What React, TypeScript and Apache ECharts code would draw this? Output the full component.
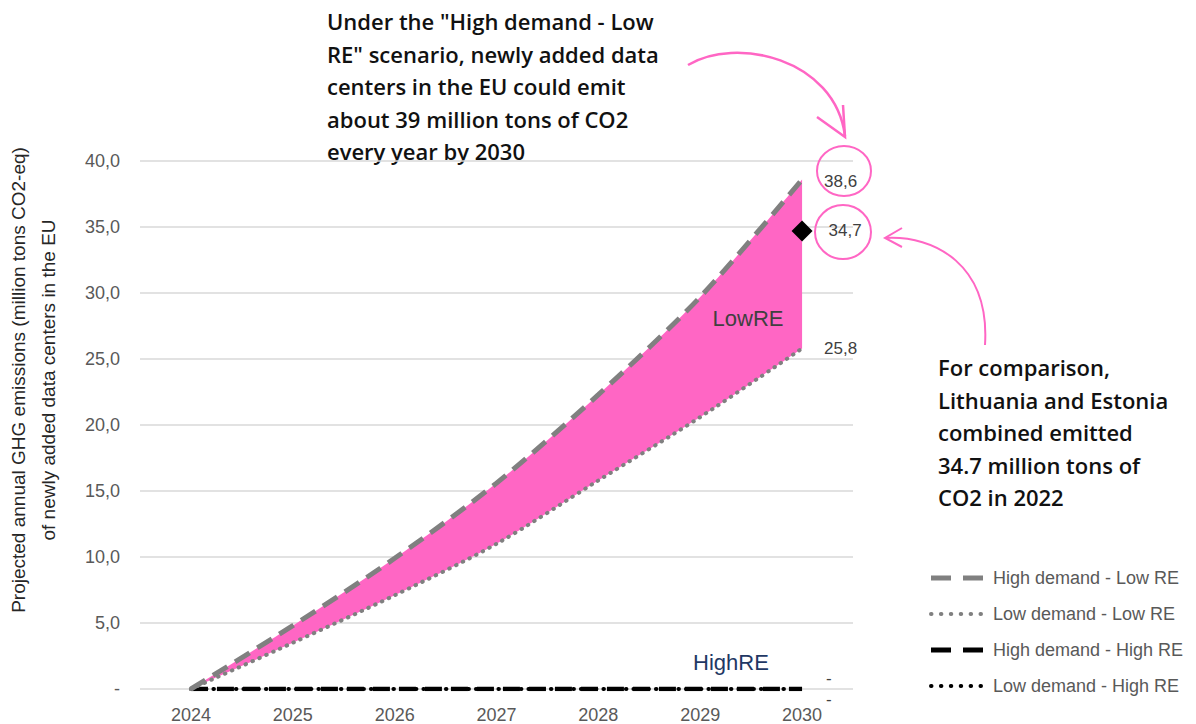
import React, { useEffect, useRef } from "react";
import * as echarts from "echarts";

const years = ["2024", "2025", "2026", "2027", "2028", "2029", "2030"];
const highDemandLowRE = [0, 4.8, 9.9, 15.6, 22.3, 29.7, 38.6];
const lowDemandLowRE = [0, 3.5, 7.1, 11.0, 15.8, 20.6, 25.8];
const highDemandHighRE = [0, 0, 0, 0, 0, 0, 0];
const lowDemandHighRE = [0, 0, 0, 0, 0, 0, 0];
const comparisonYear = "2030";
const comparisonValue = 34.7; // Lithuania + Estonia, 2022
const yMin = 0;
const yMax = 40;
const yInterval = 5;

const seriesNames = [
  "High demand - Low RE",
  "Low demand - Low RE",
  "High demand - High RE",
  "Low demand - High RE",
];

const topNote = [
  'Under the "High demand - Low',
  'RE" scenario, newly added data',
  "centers in the EU could emit",
  "about 39 million tons of CO2",
  "every year by 2030",
];
const sideNote = [
  "For comparison,",
  "Lithuania and Estonia",
  "combined emitted",
  "34.7 million tons of",
  "CO2 in 2022",
];
const yAxisTitle = [
  "Projected annual GHG emissions (million tons CO2-eq)",
  "of newly added data centers in the EU",
];

const FONT = "'Liberation Sans', Arial, sans-serif";
const NOTE_FONT = "'Open Sans', 'Noto Sans', sans-serif";
const PINK = "#ff66c4";
const GRAY = "#808080";

const DASH = [17, 9];
const DOT = [0.5, 7];
const LEGEND_DASH = [20, 12];
const LEGEND_DOT = [0.5, 9.4];

const fmt = (raw: any) => {
  const v = Number(Array.isArray(raw) ? raw[raw.length - 1] : raw);
  return v === 0 ? "-" : v.toFixed(1).replace(".", ",");
};

export default function App() {
  const ref = useRef<HTMLDivElement>(null);

  useEffect(() => {
    document.body.style.margin = "0";
    if (!ref.current) return;
    const chart = echarts.init(ref.current, undefined, { renderer: "svg" });

    const labelBase = {
      fontSize: 17,
      color: "#404040",
      fontFamily: FONT,
      formatter: (p: any) => fmt(p.value),
    };

    const bandDiff = highDemandLowRE.map((v, i) => +(v - lowDemandLowRE[i]).toFixed(2));

    const legendStyles = [
      { color: GRAY, width: 5, dash: LEGEND_DASH, cap: "butt" },
      { color: GRAY, width: 4, dash: LEGEND_DOT, cap: "round" },
      { color: "#000000", width: 5, dash: LEGEND_DASH, cap: "butt" },
      { color: "#000000", width: 4, dash: LEGEND_DOT, cap: "round" },
    ];
    const legendRowsY = [578, 614, 650, 686];
    const legendGraphics: any[] = [];
    seriesNames.forEach((name, i) => {
      const s = legendStyles[i];
      const y = legendRowsY[i];
      legendGraphics.push({
        type: "line",
        shape: { x1: 931, y1: y, x2: 983, y2: y },
        style: { stroke: s.color, lineWidth: s.width, lineDash: s.dash, lineCap: s.cap },
      });
      legendGraphics.push({
        type: "text",
        x: 993,
        y,
        style: {
          text: name,
          fontSize: 18,
          fill: "#595959",
          fontFamily: FONT,
          verticalAlign: "middle",
        },
      });
    });

    chart.setOption({
      animation: false,
      backgroundColor: "#ffffff",
      grid: { left: 140, right: 343, top: 161, bottom: 34, containLabel: false },
      xAxis: {
        type: "category",
        data: years,
        boundaryGap: true,
        axisLine: { show: false },
        axisTick: { show: false },
        axisLabel: { color: "#595959", fontSize: 18, fontFamily: FONT, margin: 17 },
      },
      yAxis: {
        type: "value",
        min: yMin,
        max: yMax,
        interval: yInterval,
        axisLine: { show: false },
        axisTick: { show: false },
        axisLabel: {
          color: "#595959",
          fontSize: 18,
          fontFamily: FONT,
          margin: 20,
          formatter: (v: number) => fmt(v),
        },
        splitLine: { lineStyle: { color: "#d9d9d9", width: 1.5 } },
      },
      legend: { show: false },
      series: [
        {
          name: "bandBase",
          type: "line",
          data: lowDemandLowRE,
          stack: "band",
          smooth: 0.3,
          symbol: "none",
          lineStyle: { width: 0, opacity: 0 },
          silent: true,
          z: 1,
        },
        {
          name: "LowRE band",
          type: "line",
          data: bandDiff,
          stack: "band",
          smooth: 0.3,
          symbol: "none",
          lineStyle: { width: 0, opacity: 0 },
          areaStyle: { color: PINK, opacity: 1 },
          silent: true,
          z: 1,
        },
        {
          name: seriesNames[2],
          type: "line",
          data: highDemandHighRE,
          symbol: "none",
          lineStyle: { color: "#000000", width: 4.5, type: DASH, cap: "butt" },
          endLabel: { show: true, ...labelBase, distance: 24, offset: [0, -11] },
          z: 3,
        },
        {
          name: seriesNames[3],
          type: "line",
          data: lowDemandHighRE,
          symbol: "none",
          lineStyle: { color: "#000000", width: 4, type: DOT, cap: "round" },
          endLabel: { show: true, ...labelBase, distance: 24, offset: [0, 10] },
          z: 3,
        },
        {
          name: seriesNames[0],
          type: "line",
          data: highDemandLowRE,
          smooth: 0.3,
          symbol: "none",
          lineStyle: { color: GRAY, width: 5, type: DASH, cap: "butt" },
          endLabel: { show: true, ...labelBase, distance: 22, offset: [0, 2] },
          z: 4,
        },
        {
          name: seriesNames[1],
          type: "line",
          data: lowDemandLowRE,
          smooth: 0.3,
          symbol: "none",
          lineStyle: { color: GRAY, width: 4, type: DOT, cap: "round" },
          endLabel: { show: true, ...labelBase, distance: 22 },
          z: 4,
        },
        {
          name: "Lithuania + Estonia 2022",
          type: "scatter",
          data: [[comparisonYear, comparisonValue]],
          symbol: "diamond",
          symbolSize: 21,
          itemStyle: { color: "#000000", opacity: 1 },
          label: { show: true, position: "right", ...labelBase, distance: 16 },
          z: 5,
        },
      ],
      graphic: [
        {
          type: "text",
          left: 327,
          top: 5,
          style: {
            text: topNote.join("\n"),
            fontSize: 22,
            fontWeight: 600,
            lineHeight: 32.5,
            fill: "#111111",
            fontFamily: NOTE_FONT,
          },
        },
        {
          type: "text",
          left: 938,
          top: 351,
          style: {
            text: sideNote.join("\n"),
            fontSize: 22,
            fontWeight: 600,
            lineHeight: 32.5,
            fill: "#111111",
            fontFamily: NOTE_FONT,
          },
        },
        {
          type: "text",
          x: 33,
          y: 380,
          rotation: Math.PI / 2,
          style: {
            text: yAxisTitle.join("\n"),
            fontSize: 19,
            lineHeight: 30,
            fill: "#262626",
            fontFamily: FONT,
            align: "center",
            verticalAlign: "middle",
          },
        },
        {
          type: "text",
          x: 748,
          y: 318,
          z: 10,
          style: {
            text: "LowRE",
            fontSize: 22,
            fill: "#404040",
            fontFamily: FONT,
            align: "center",
            verticalAlign: "middle",
          },
        },
        {
          type: "text",
          x: 731,
          y: 662,
          z: 10,
          style: {
            text: "HighRE",
            fontSize: 22,
            fill: "#1f3864",
            fontFamily: FONT,
            align: "center",
            verticalAlign: "middle",
          },
        },
        {
          type: "ellipse",
          shape: { cx: 844, cy: 171, rx: 27, ry: 25 },
          style: { fill: "none", stroke: PINK, lineWidth: 2 },
          z: 10,
        },
        {
          type: "ellipse",
          shape: { cx: 843, cy: 232, rx: 28, ry: 27 },
          style: { fill: "none", stroke: PINK, lineWidth: 2 },
          z: 10,
        },
        {
          type: "bezierCurve",
          shape: { x1: 688, y1: 65, cpx1: 735, cpy1: 36, cpx2: 835, cpy2: 58, x2: 845, y2: 136 },
          style: { fill: "none", stroke: PINK, lineWidth: 2.5 },
          z: 10,
        },
        {
          type: "polyline",
          shape: { points: [[817, 117], [845, 137], [843, 105]] },
          style: { fill: "none", stroke: PINK, lineWidth: 2.5 },
          z: 10,
        },
        {
          type: "bezierCurve",
          shape: { x1: 985, y1: 345, cpx1: 990, cpy1: 265, cpx2: 935, cpy2: 235, x2: 885, y2: 238 },
          style: { fill: "none", stroke: PINK, lineWidth: 2 },
          z: 10,
        },
        {
          type: "polyline",
          shape: { points: [[902, 228], [885, 238], [902, 247]] },
          style: { fill: "none", stroke: PINK, lineWidth: 2 },
          z: 10,
        },
        ...legendGraphics,
      ],
    });

    return () => chart.dispose();
  }, []);

  return <div ref={ref} style={{ width: 1196, height: 724 }} />;
}
